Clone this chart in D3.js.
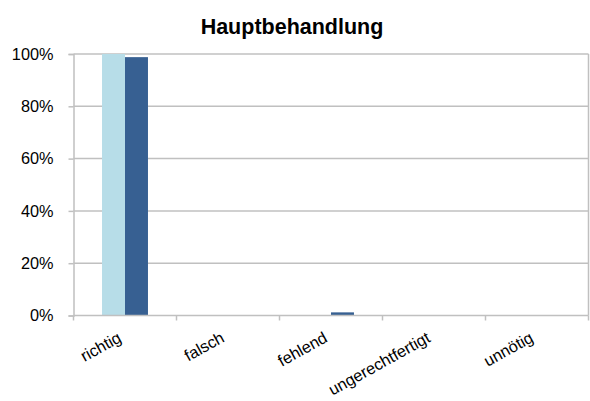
<!DOCTYPE html>
<html><head><meta charset="utf-8">
<script src="https://cdn.jsdelivr.net/npm/d3@7/dist/d3.min.js"></script>
<style>
html,body{margin:0;padding:0;background:#fff;}
svg{display:block;font-family:"Liberation Sans",Arial,Helvetica,sans-serif;}
</style></head>
<body>
<svg id="chart" width="590" height="401"></svg>
<script>
const categories = ["richtig","falsch","fehlend","ungerechtfertigt","unnötig"];
const seriesNames = ["Serie 1","Serie 2"];
const series1 = [100, 0, 0, 0, 0];
const series2 = [98.8, 0, 1.2, 0, 0];
const yTicks = [0, 20, 40, 60, 80, 100];
const title = "Hauptbehandlung";
const colors = ["#b7dde8", "#376092"];

(function(){
const svg = d3.select("#chart");
const mLeft = 73.5, mRight = 588.5, mTop = 54, mBottom = 315.5;
const gridColor = "#c0c0c0";

const x0 = d3.scaleBand().domain(categories).range([mLeft, mRight]).padding(0);
const bw = x0.bandwidth();
const x1 = d3.scaleBand().domain(seriesNames).range([bw*0.277, bw*0.723]).padding(0);
const y = d3.scaleLinear().domain([0, 100]).range([mBottom, mTop]);

svg.append("text").attr("x", 292).attr("y", 34).attr("text-anchor","middle")
  .attr("font-size", 21.5).attr("font-weight","bold").attr("fill","#000").text(title);

svg.append("g").selectAll("line").data(yTicks.filter(d=>d>0)).join("line")
  .attr("x1", mLeft).attr("x2", mRight).attr("y1", d=>y(d)).attr("y2", d=>y(d))
  .attr("stroke", gridColor).attr("stroke-width", 1.5);
svg.append("line").attr("x1", mRight).attr("x2", mRight).attr("y1", mTop).attr("y2", mBottom)
  .attr("stroke", gridColor).attr("stroke-width", 1.5);

const data = categories.map((c,i)=>({cat:c, vals:[series1[i], series2[i]]}));
const g = svg.append("g").selectAll("g").data(data).join("g")
  .attr("transform", d=>`translate(${x0(d.cat)},0)`);
g.selectAll("rect").data(d=>d.vals.map((v,j)=>({v, s:seriesNames[j], j}))).join("rect")
  .attr("x", d=>x1(d.s)).attr("width", x1.bandwidth())
  .attr("y", d=>y(d.v)).attr("height", d=>y(0)-y(d.v))
  .attr("fill", d=>colors[d.j]);

const yAxis = d3.axisLeft(y).tickValues(yTicks).tickFormat(d=>d+"%").tickSize(5).tickPadding(15);
const ya = svg.append("g").attr("transform", `translate(${mLeft},0)`).call(yAxis);
ya.select(".domain").attr("stroke", gridColor).attr("stroke-width", 1.5);
ya.selectAll(".tick line").attr("stroke", gridColor).attr("stroke-width", 1.5);
ya.selectAll(".tick text").attr("font-size", 16.3).attr("fill","#000")
  .attr("font-family","Liberation Sans,Arial,sans-serif");

const xa = svg.append("g").attr("transform", `translate(0,${mBottom})`);
xa.append("line").attr("x1", mLeft).attr("x2", mRight).attr("stroke", gridColor).attr("stroke-width", 1.5);
const bounds = categories.map(c=>x0(c)).concat([mRight]);
xa.selectAll("line.tk").data(bounds).join("line").attr("class","tk")
  .attr("x1", d=>d).attr("x2", d=>d).attr("y1", 0).attr("y2", 5)
  .attr("stroke", gridColor).attr("stroke-width", 1.5);
xa.selectAll("text.lbl").data(categories).join("text").attr("class","lbl")
  .attr("transform", d=>`translate(${x0(d)+bw/2-2.5},${25.5}) rotate(-29)`)
  .attr("text-anchor","end").attr("font-size", 16.3).attr("fill","#000").text(d=>d);
})();
</script>
</body></html>
